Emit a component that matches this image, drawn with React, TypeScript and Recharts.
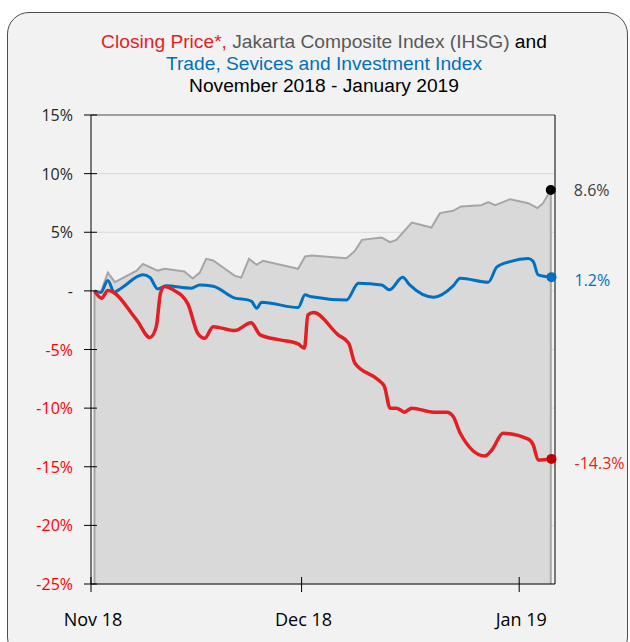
import { ComposedChart, Area, Line, XAxis, YAxis, CartesianGrid, ReferenceLine } from 'recharts';

// x = days since 1 Nov 2018, y = % change since start
const ihsgX = [0.5, 1.4, 2.4, 3.4, 6.5, 7.4, 9.5, 10.5, 13.3, 14.5, 15.5, 16.4, 17.4, 20.5, 21.4, 22.5, 23.6, 24.5, 29.5, 30.5, 31.4, 36.4, 37.6, 38.6, 41.4, 42.6, 43.5, 45.7, 48.5, 49.7, 51.6, 52.7, 55.6, 56.6, 57.6, 59.7, 62.3, 63.6, 64.4, 65.5];
const ihsgY = [0, -0.1, 1.56, 0.74, 1.73, 2.3, 1.73, 1.88, 1.65, 1.05, 1.56, 2.73, 2.59, 1.28, 1.14, 2.73, 2.22, 2.56, 1.88, 2.93, 3.01, 2.79, 3.41, 4.35, 4.55, 4.16, 4.35, 5.83, 5.4, 6.63, 6.83, 7.2, 7.31, 7.57, 7.31, 7.82, 7.48, 7.06, 7.48, 8.6];

const tsiX = [0.5, 1.4, 2.4, 3.3, 4.3, 7.4, 8.4, 9.5, 10.7, 14.3, 15.5, 17.4, 20.5, 22.3, 22.9, 23.6, 24.3, 29.5, 30.5, 31.2, 36.4, 38.1, 41.4, 42.5, 44.4, 45.4, 48.8, 51.6, 52.6, 56.6, 57.8, 59.7, 62.3, 63.0, 63.7, 65.6];
const tsiY = [0, -0.14, 0.88, -0.11, 0.23, 1.37, 1.14, 0.17, 0.43, 0.23, 0.51, 0.4, -0.62, -0.77, -0.91, -1.48, -0.97, -1.42, -0.34, -0.48, -0.77, 0.66, 0.51, 0.09, 1.16, 0.51, -0.54, 0.43, 1.08, 0.74, 2.02, 2.5, 2.76, 2.5, 1.37, 1.17];

const priceX = [0.5, 1.5, 2.4, 6.5, 8.4, 9.3, 9.9, 10.5, 11.7, 13.8, 15.2, 16.2, 17.4, 20.5, 22.8, 24.1, 26.9, 29.5, 30.4, 30.9, 31.7, 35.2, 36.7, 37.6, 40.9, 41.8, 42.6, 43.5, 44.3, 44.6, 45.7, 48.8, 50.7, 51.6, 52.6, 56.1, 57.1, 58.7, 62.3, 63.0, 63.7, 65.6];
const priceY = [0, -0.62, 0.03, -2.47, -3.98, -3.05, -0.2, 0.37, 0.09, -1.11, -3.61, -4.04, -3.05, -3.39, -2.72, -3.75, -4.18, -4.52, -4.89, -2.05, -1.85, -3.75, -4.46, -6.17, -7.59, -8.16, -10.0, -10.0, -10.24, -10.35, -10.0, -10.35, -10.35, -10.72, -12.14, -14.08, -13.57, -12.14, -12.65, -13.14, -14.42, -14.33];

const monthTicks = [0, 30, 61];
const monthLabels = ['Nov 18', 'Dec 18', 'Jan 19'];
const pctTicks = [-25, -20, -15, -10, -5, 0, 5, 10, 15];

const ihsgData = ihsgX.map((day, i) => ({ day, value: ihsgY[i] }));
const tsiData = tsiX.map((day, i) => ({ day, value: tsiY[i] }));
const priceData = priceX.map((day, i) => ({ day, value: priceY[i] }));

const FONT = '"Open Sans", sans-serif';
const TITLE_FONT = '"Liberation Sans", Arial, sans-serif';
const RED = '#e31e24';
const BLUE = '#0070c0';
const GREY = '#a6a6a6';

function LeftTick({ x, y, payload }: any) {
  const v = payload.value;
  const label = v === 0 ? '-' : `${v}%`;
  return (
    <g>
      <line x1={x - 7} x2={x + 6} y1={y} y2={y} stroke="#000" />
      <text x={x - 18} y={y + 6} textAnchor="end" fontSize={16} fontFamily={FONT} fill={v < 0 ? '#ff0000' : '#262626'}>
        {label}
      </text>
    </g>
  );
}

function RightTick({ x, y }: any) {
  return <line x1={x - 6} x2={x + 6} y1={y} y2={y} stroke="#000" />;
}

function BottomTick({ x, y, payload }: any) {
  const idx = monthTicks.indexOf(payload.value);
  return (
    <g>
      <line x1={x} x2={x} y1={y - 7} y2={y + 8} stroke="#000" />
      <text x={x + 2} y={y + 42} textAnchor="middle" fontSize={18} fontFamily={FONT} fill="#000">
        {monthLabels[idx]}
      </text>
    </g>
  );
}

function endDot(count: number, fill: string, textColor: string, dy: number) {
  return (props: any) => {
    const { cx, cy, index, payload } = props;
    if (index !== count - 1) return <g key={index} />;
    return (
      <g key={index}>
        <circle cx={cx} cy={cy} r={5} fill={fill} />
        <text x={cx + 23} y={cy + dy} fontSize={16} fontFamily={FONT} fill={textColor}>
          {`${payload.value.toFixed(1)}%`}
        </text>
      </g>
    );
  };
}

export default function App() {
  return (
    <div style={{ position: 'absolute', left: 0, top: 0, width: 630, height: 642, background: '#fff', overflow: 'hidden' }}>
      <div
        style={{
          position: 'absolute',
          left: 7,
          top: 12,
          width: 619,
          height: 645,
          border: '1.5px solid #4d4d4d',
          borderRadius: 22,
          background: '#f2f2f2',
        }}
      />
      <div
        style={{
          position: 'absolute',
          left: 0,
          top: 31,
          width: 648,
          textAlign: 'center',
          fontFamily: TITLE_FONT,
          fontSize: 19.2,
          lineHeight: '21.8px',
          color: '#000',
        }}
      >
        <div>
          <span style={{ color: RED }}>Closing Price*, </span>
          <span style={{ color: '#595959' }}>Jakarta Composite Index (IHSG)</span> and
        </div>
        <div style={{ color: BLUE }}>Trade, Sevices and Investment Index</div>
        <div>November 2018 - January 2019</div>
      </div>
      <div style={{ position: 'absolute', left: 0, top: 0 }}>
        <ComposedChart width={630} height={642} margin={{ top: 115, right: 65, bottom: 18, left: 31 }}>
          <CartesianGrid vertical={false} stroke="#d9d9d9" />
          <XAxis
            dataKey="day"
            type="number"
            domain={[0, 66.1]}
            ticks={monthTicks}
            height={40}
            tickSize={0}
            tickMargin={0}
            axisLine={{ stroke: '#000' }}
            tickLine={false}
            tick={<BottomTick />}
          />
          <YAxis
            type="number"
            domain={[-25, 15]}
            ticks={pctTicks}
            width={60}
            tickSize={0}
            tickMargin={0}
            axisLine={{ stroke: '#000' }}
            tickLine={false}
            tick={<LeftTick />}
          />
          <YAxis
            yAxisId="r"
            orientation="right"
            type="number"
            domain={[-25, 15]}
            ticks={pctTicks}
            width={10}
            tickSize={0}
            tickMargin={0}
            axisLine={{ stroke: '#000' }}
            tickLine={false}
            tick={<RightTick />}
          />
          <ReferenceLine y={15} stroke="#595959" />
          <Area
            data={ihsgData}
            dataKey="value"
            type="linear"
            baseValue={-25}
            fill="#d9d9d9"
            fillOpacity={1}
            stroke={GREY}
            strokeWidth={2}
            isAnimationActive={false}
            dot={false}
            activeDot={false}
          />
          <ReferenceLine
            segment={[{ x: ihsgX[0], y: -25 }, { x: ihsgX[0], y: ihsgY[0] }]}
            stroke={GREY}
            strokeWidth={2}
          />
          <ReferenceLine
            segment={[
              { x: ihsgX[ihsgX.length - 1], y: -25 },
              { x: ihsgX[ihsgX.length - 1], y: ihsgY[ihsgY.length - 1] },
            ]}
            stroke={GREY}
            strokeWidth={2}
          />
          <Line
            data={tsiData}
            dataKey="value"
            type="monotone"
            stroke={BLUE}
            strokeWidth={3}
            isAnimationActive={false}
            dot={endDot(tsiData.length, BLUE, BLUE, 9)}
            activeDot={false}
          />
          <Line
            data={priceData}
            dataKey="value"
            type="monotone"
            stroke={RED}
            strokeWidth={3.5}
            isAnimationActive={false}
            dot={endDot(priceData.length, '#c00000', RED, 10)}
            activeDot={false}
          />
          <Line
            data={ihsgData}
            dataKey="value"
            type="linear"
            stroke="none"
            isAnimationActive={false}
            dot={endDot(ihsgData.length, '#000', '#404040', 6)}
            activeDot={false}
          />
        </ComposedChart>
      </div>
    </div>
  );
}
